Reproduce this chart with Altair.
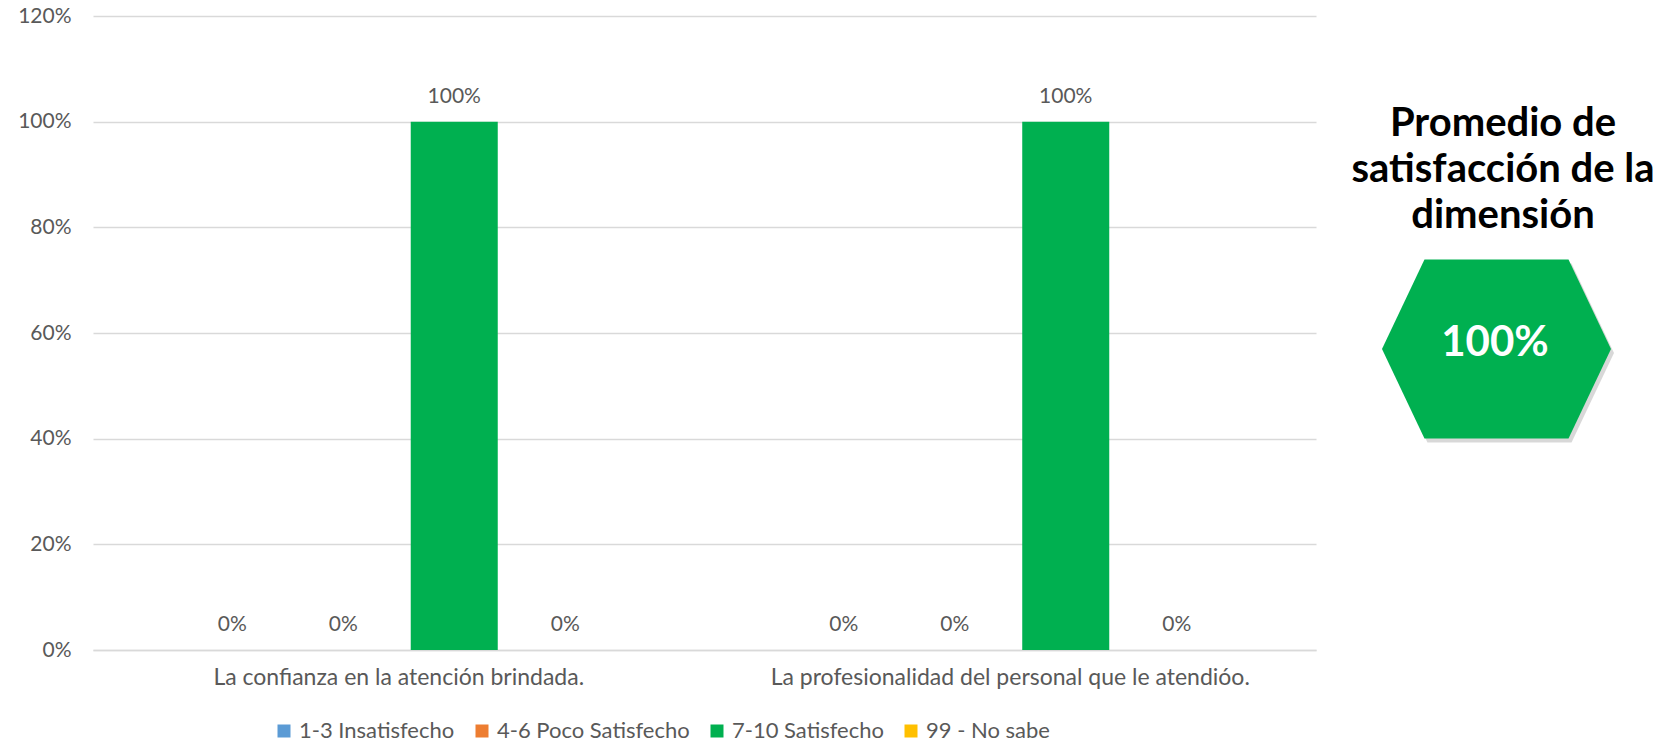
import altair as alt
import pandas as pd

categories = ["La confianza en la atención brindada.",
              "La profesionalidad del personal que le atendióo."]
series = ["1-3 Insatisfecho", "4-6 Poco Satisfecho", "7-10 Satisfecho", "99 - No sabe"]
colors = ["#5B9BD5", "#ED7D31", "#00B050", "#FFC000"]
values_cat1 = [0.0, 0.0, 1.0, 0.0]
values_cat2 = [0.0, 0.0, 1.0, 0.0]
y_ticks = [0, 0.2, 0.4, 0.6, 0.8, 1.0, 1.2]
title_lines = ["Promedio de", "satisfacción de la", "dimensión"]
promedio = [1.0]

rows = []
for cat, vals in zip(categories, [values_cat1, values_cat2]):
    for s, v in zip(series, vals):
        rows.append({"categoria": cat, "serie": s, "valor": v})
df = pd.DataFrame(rows)

W, H = 1223, 634
FONT = "Lato"
GREY = "#595959"

x_enc = alt.X("categoria:N", sort=categories, title=None,
              scale=alt.Scale(paddingInner=0.274, paddingOuter=0.137),
              axis=alt.Axis(labelAngle=0, labelFontSize=23, labelColor=GREY, labelFont=FONT,
                            ticks=False, domain=True, domainColor="#D9D9D9", domainWidth=1.5,
                            labelPadding=16, labelLimit=800))
xo_enc = alt.XOffset("serie:N", sort=series,
                     scale=alt.Scale(paddingInner=0.216, paddingOuter=0.108))
y_enc = alt.Y("valor:Q", title=None,
              scale=alt.Scale(domain=[0, 1.2], nice=False),
              axis=alt.Axis(values=y_ticks, format=".0%", labelFontSize=21, labelColor=GREY,
                            labelFont=FONT, ticks=False, domain=False, gridColor="#D9D9D9",
                            gridWidth=1.5, labelPadding=22))

bars = alt.Chart(df).mark_bar().encode(
    x=x_enc, xOffset=xo_enc, y=y_enc,
    color=alt.Color("serie:N", sort=series,
                    scale=alt.Scale(domain=series, range=colors),
                    legend=alt.Legend(title=None, orient="none", legendX=180, legendY=704,
                                      direction="horizontal", symbolType="square",
                                      symbolSize=169, symbolStrokeWidth=0,
                                      labelFontSize=22, labelFont=FONT, labelColor=GREY,
                                      labelOffset=4, columnPadding=16, padding=0,
                                      labelLimit=400))
)

labels = alt.Chart(df).mark_text(fontSize=21, font=FONT, color=GREY, baseline="middle", dy=-25).encode(
    x=alt.X("categoria:N", sort=categories), xOffset=alt.XOffset("serie:N", sort=series),
    y="valor:Q", text=alt.Text("valor:Q", format=".0%")
)

pdf = pd.DataFrame({"promedio": promedio, "titulo": ["\n".join(title_lines)]})
hex_path = "M-0.629,-0.782 L0.629,-0.782 L1,0 L0.629,0.782 L-0.629,0.782 L-1,0 Z"

shadow = alt.Chart(pdf).mark_point(shape=hex_path, size=229 * 229, filled=True,
                                   color="#7f7f7f", opacity=0.3, strokeWidth=0).encode(
    x=alt.value(1406.5), y=alt.value(337))
hexagon = alt.Chart(pdf).mark_point(shape=hex_path, size=229 * 229, filled=True,
                                    color="#00B050", opacity=1, strokeWidth=0).encode(
    x=alt.value(1403.5), y=alt.value(333))
hex_text = alt.Chart(pdf).mark_text(font=FONT, fontWeight="bold", fontSize=42,
                                    color="white", baseline="middle", align="center").encode(
    x=alt.value(1402), y=alt.value(327), text=alt.Text("promedio:Q", format=".0%"))
title_text = alt.Chart(pdf).mark_text(font=FONT, fontWeight="bold", fontSize=40,
                                      color="black", baseline="middle", align="center",
                                      lineBreak="\n", lineHeight=46).encode(
    x=alt.value(1410), y=alt.value(108), text="titulo:N")

chart = alt.layer(bars, labels, shadow, hexagon, hex_text, title_text).properties(
    width=W, height=H,
    autosize=alt.AutoSizeParams(type="none"),
    padding={"left": 93, "top": 16, "right": 344, "bottom": 95},
).configure(background="white").configure_view(stroke=None)

chart.save("out.html", embed_options={"renderer": "svg", "actions": False})
